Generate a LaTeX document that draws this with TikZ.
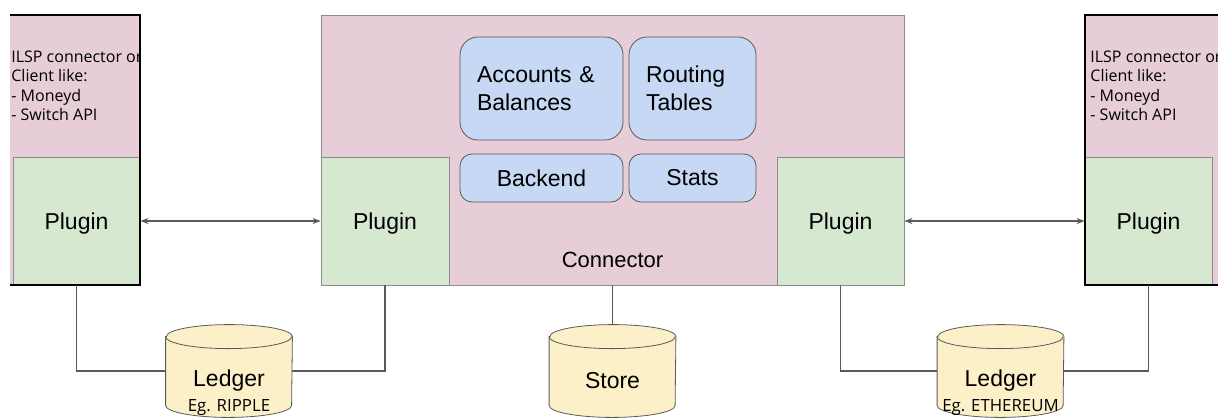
\documentclass[tikz,border=0pt]{standalone}
\usepackage{fontspec}
\setmainfont{Liberation Sans}
\newfontfamily\notefont{Open Sans}
\usepackage{tikz}
\usetikzlibrary{arrows.meta, positioning}
\definecolor{hostpink}{RGB}{230, 205, 215}
\definecolor{plugreen}{RGB}{215, 232, 208}
\definecolor{modblue}{RGB}{198, 216, 244}
\definecolor{dbyellow}{RGB}{252, 240, 200}
\definecolor{edgegray}{RGB}{90, 90, 90}

\begin{document}
\begin{tikzpicture}[x=0.5pt, y=-0.5pt,
  hostbox/.style={fill=hostpink, inner sep=0pt, minimum height=135pt},
  plugbox/.style={draw=edgegray!70, fill=plugreen, inner sep=0pt, minimum height=64pt, text depth=0pt, font=\fontsize{11.5}{14}\selectfont},
  modbox/.style={draw=edgegray, fill=modblue, inner sep=0pt, font=\fontsize{11.5}{14}\selectfont},
  db/.style={inner sep=0pt, minimum width=63pt, minimum height=46pt},
  note/.style={font=\notefont\fontsize{8}{9.75}\selectfont, align=left, inner sep=0pt, anchor=west},
  link/.style={draw=edgegray, line width=0.6pt},
  tip/.style={{Stealth[length=4pt, width=3pt]}-{Stealth[length=4pt, width=3pt]}}
]
  \useasboundingbox (0,0) rectangle (1218,418);

  % Left client
  \node[hostbox, minimum width=65pt] (cliA) at (75, 150) {};
  \node[plugbox, minimum width=63.5pt] (pgA) at (76.5, 221) {Plugin};
  \begin{scope}
    \clip (cliA.north west) rectangle (cliA.south east);
    \node[note] (noteA) at (11, 86) {ILSP connector or\\Client like:\\- Moneyd\\- Switch API};
  \end{scope}
  \draw[line width=1pt] (cliA.north west) -- (cliA.north east) -- (cliA.south east) -- (cliA.south west);

  % Connector
  \node[hostbox, draw=edgegray!70, minimum width=291.5pt] (conn) at (612.5, 150) {};
  \node[plugbox, minimum width=64pt] (pgB) at (385, 221) {Plugin};
  \node[plugbox, minimum width=63.5pt] (pgC) at (840.5, 221) {Plugin};
  \node[modbox, rounded corners=9pt, minimum height=51.5pt, inner xsep=8.5pt, text width=64.5pt, align=left] (acc) at (541.5, 88.5) {Accounts \&\\Balances};
  \node[modbox, rounded corners=9pt, minimum height=51.5pt, inner xsep=8.5pt, text width=46.5pt, align=left] (rout) at (692.5, 88.5) {Routing\\Tables};
  \node[modbox, rounded corners=6pt, minimum height=24pt, minimum width=81.5pt] (back) at (541.5, 178) {Backend};
  \node[modbox, rounded corners=6pt, minimum height=24pt, minimum width=63.5pt] (stats) at (692.5, 178) {Stats};
  \node[font=\fontsize{11}{13}\selectfont] (connlbl) at (612.5, 260) {Connector};

  % Right client
  \node[hostbox, minimum width=66.5pt] (cliB) at (1151.5, 150) {};
  \node[plugbox, minimum width=63.5pt] (pgD) at (1148.5, 221) {Plugin};
  \begin{scope}
    \clip (cliB.north west) rectangle (cliB.south east);
    \node[note] (noteB) at (1090, 86) {ILSP connector or\\Client like:\\- Moneyd\\- Switch API};
  \end{scope}
  \draw[line width=1pt] (cliB.north east) -- (cliB.north west) -- (cliB.south west) -- (cliB.south east);

  % Plugin links
  \draw[link, tip] (pgA.east) -- (pgB.west);
  \draw[link, tip] (pgC.east) -- (pgD.west);

  % Stores
  \node[db] (ledA) at (229, 371) {};
  \node[db] (store) at (612.5, 371) {};
  \node[db] (ledB) at (1000.5, 371) {};
  \foreach \d in {ledA, store, ledB} {
    \draw[edgegray, fill=dbyellow] ([yshift=-6pt]\d.north west) -- ([yshift=6pt]\d.south west)
      arc[start angle=180, end angle=360, x radius=31.5pt, y radius=6pt]
      -- ([yshift=-6pt]\d.north east)
      arc[start angle=0, end angle=180, x radius=31.5pt, y radius=6pt] -- cycle;
    \draw[edgegray] ([yshift=-6pt]\d.north west) arc[start angle=180, end angle=360, x radius=31.5pt, y radius=6pt];
  }
  \node[font=\fontsize{11.5}{14}\selectfont] at (229, 381) {Ledger};
  \node[font=\notefont\fontsize{8.4}{10}\selectfont] at (229, 408) {Eg. RIPPLE};
  \node[font=\fontsize{11.5}{14}\selectfont] at (612.5, 381) {Store};
  \node[font=\fontsize{11.5}{14}\selectfont] at (1000.5, 381) {Ledger};
  \node[font=\notefont\fontsize{8.4}{10}\selectfont] at (1000.5, 408) {Eg. ETHEREUM};

  \draw[link] (pgA.south) |- (ledA.west);
  \draw[link] (pgB.south) |- (ledA.east);
  \draw[link] (conn.south) -- (store.north);
  \draw[link] (pgC.south) |- (ledB.west);
  \draw[link] (pgD.south) |- (ledB.east);
\end{tikzpicture}
\end{document}
